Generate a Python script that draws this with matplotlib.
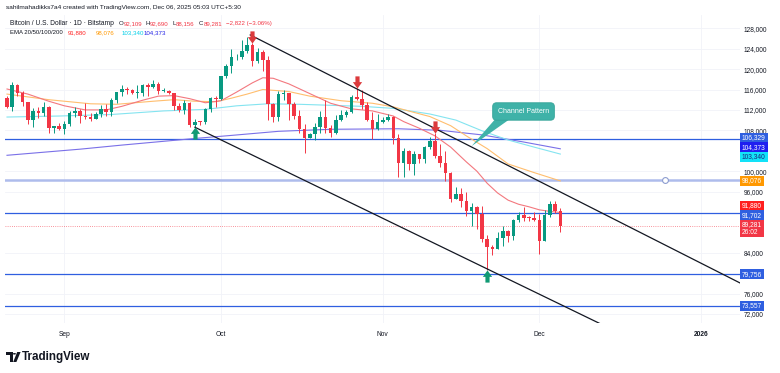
import matplotlib
matplotlib.use("Agg")
import matplotlib.pyplot as plt
import matplotlib.transforms as mtransforms
from matplotlib.path import Path
from matplotlib.patches import Polygon, Rectangle, Circle
import numpy as np
import pandas as pd

# ---------------- data ----------------
start_date = "2025-08-21"
opens = [114270, 112500, 116900, 115400, 113500, 110100, 111800, 111300, 112600, 108400, 108800,
         108300, 109300, 111300, 111700, 110800, 110700, 110200, 111200, 112100, 111500, 113900,
         115500, 116100, 115900, 115300, 115400, 116800, 116500, 117100, 115700, 115700, 115300,
         112700, 112000, 113300, 109000, 109700, 109600, 112100, 114400,
         114100, 118600, 120600, 122300, 122400, 123500, 124800, 121500, 123300, 121700, 113200,
         110700, 115100, 115300, 113100, 110800, 108200, 106400, 107200, 108600, 110600, 108400,
         107500, 110100, 111000, 111600, 114500, 114100, 112900, 110000, 108300,
         109600, 110100, 110600, 106500, 101500, 103900, 101300, 103300, 102300, 104700, 106000,
         103000, 101600, 99700, 94500, 95500, 94200, 92200, 92900, 91500, 86600, 85100, 84700,
         86800, 88300, 87300, 90500, 91300, 90900, 90800,
         90400, 86300, 91300, 93500, 92109]
highs = [114800, 117400, 117000, 115800, 113600, 112300, 112600, 113500, 112700, 108900, 109500,
         109900, 111800, 112600, 112200, 113400, 111300, 111500, 112900, 113200, 114300, 115500,
         116800, 116400, 116100, 116800, 117000, 117300, 117900, 117500, 116300, 115900, 115400,
         113300, 114000, 113500, 110300, 109800, 112300, 114500, 114800,
         118600, 121000, 123900, 122900, 125700, 126200, 125100, 124200, 123800, 122500, 113400,
         115800, 116000, 115400, 113600, 111900, 109200, 107500, 109400, 111700, 114000, 109100,
         111000, 112000, 111900, 115000, 116300, 116000, 113600, 111600, 111200,
         110600, 111200, 110800, 107300, 104500, 104200, 104000, 103400, 105000, 106600, 107500,
         105300, 104000, 99800, 96800, 96600, 96000, 93800, 93100, 93100, 87500, 85600, 88000,
         89200, 88500, 90600, 91900, 93000, 91200, 92000,
         91500, 92300, 94100, 94100, 92690]
lows = [112400, 111700, 114700, 112700, 109300, 108700, 110400, 110900, 107500, 107400, 108000,
        107300, 108800, 110600, 109400, 110200, 109900, 110200, 110700, 110800, 110900, 113400,
        114800, 115200, 115100, 114400, 114800, 114700, 116200, 115100, 115500, 115200, 112000,
        111500, 111100, 108700, 108600, 109100, 109200, 111600, 112600,
        113900, 118200, 119300, 121700, 122000, 123100, 120600, 121100, 119700, 110000, 109600,
        109800, 113900, 110000, 110200, 107500, 103500, 106400, 106100, 107500, 107500, 106700,
        107300, 109800, 110700, 111300, 113900, 112200, 109900, 106300, 108000,
        109500, 109800, 105300, 98900, 98900, 100300, 99300, 101500, 101500, 104300, 102500,
        100800, 98000, 94000, 94500, 93000, 91200, 89300, 88600, 86100, 80600, 83500, 84700,
        85300, 86100, 86400, 90100, 90200, 90300, 90300,
        83800, 86200, 91000, 91700, 88156]
closes = [112500, 116900, 115400, 113500, 110100, 111800, 111300, 112600, 108400, 108800, 108300,
          109300, 111300, 111700, 110800, 110700, 110200, 111200, 112100, 111500, 113900, 115500,
          116100, 115900, 115300, 115400, 116800, 116500, 117100, 115700, 115700, 115300, 112700,
          112000, 113300, 109000, 109700, 109600, 112100, 114400, 114100,
          118600, 120600, 122300, 122400, 123500, 124800, 121500, 123300, 121700, 113200, 110700,
          115100, 115300, 113100, 110800, 108200, 106400, 107200, 108600, 110600, 108400, 107500,
          110100, 111000, 111600, 114500, 114100, 112900, 110000, 108300, 109600,
          110100, 110600, 106500, 101500, 103900, 101300, 103300, 102300, 104700, 106000, 103000,
          101600, 99700, 94500, 95500, 94200, 92200, 92900, 91500, 86600, 85100, 84700, 86800,
          88300, 87300, 90500, 91300, 90900, 90800, 90400,
          86300, 91300, 93500, 92103, 89281]

ema20_idx = [0, 4, 8, 11, 15, 19, 22, 26, 29, 32, 35, 38, 41, 44, 47, 49, 51, 54, 58, 62, 66, 70,
             74, 76, 79, 82, 85, 88, 90, 92, 94, 96, 98, 100, 102, 104, 106]
ema20_val = [116100, 115100, 113700, 112800, 112000, 112000, 112700, 113900, 114700, 114800, 114200,
             113400, 113800, 115500, 117300, 118300, 118200, 117100, 115200, 113300, 112200, 111800,
             110800, 109700, 108400, 106900, 104700, 101800, 100000, 97600, 95700, 94300, 93500,
             93000, 92400, 92100, 91880]
ema50_idx = [0, 8, 16, 21, 28, 32, 36, 40, 43, 46, 49, 54, 58, 64, 70, 74, 78, 81, 85, 88, 92, 96,
             101, 106]
ema50_val = [115100, 114000, 113200, 113100, 113700, 114000, 113700, 113600, 114300, 115100, 116000,
             115600, 114700, 113800, 113300, 112600, 111500, 110700, 108900, 106900, 104400, 101400,
             99700, 98076]
ema100_idx = [0, 10, 20, 30, 38, 44, 50, 56, 62, 68, 74, 81, 86, 91, 96, 101, 106]
ema100_val = [110600, 110800, 111100, 111800, 112100, 112800, 113200, 113100, 112900, 112700, 112300,
              111200, 110000, 107900, 106100, 104700, 103340]
ema200_idx = [0, 14, 22, 36, 43, 52, 62, 75, 83, 91, 99, 106]
ema200_val = [103100, 104300, 105100, 106400, 107000, 107800, 108200, 108300, 108000, 107100,
              105700, 104373]

levels = [106329, 91702, 79756, 73557]
soft_level = 98250
channel_upper_idx = [46.6, 140.4]
channel_upper_price = [126700, 78080]
channel_lower_idx = [36.0, 114.2]
channel_lower_price = [108600, 69800]
sell_days = ["2025-10-07", "2025-10-27", "2025-11-11"]
buy_days = ["2025-09-26", "2025-11-21"]
month_dates = ["2025-09-01", "2025-10-01", "2025-11-01", "2025-12-01", "2026-01-01"]
month_labels = ["Sep", "Oct", "Nov", "Dec", "2026"]
countdown = "26:02"

# ---------------- style ----------------
FONT = ["Liberation Sans", "DejaVu Sans"]
plt.rcParams["font.family"] = FONT
TXT = "#131722"
GREEN = "#089981"
RED = "#f23645"
BLUE = "#2f5fe0"
W, H = 780, 373
AX_L, AX_R, AX_T, AX_B = 5, 740, 15, 323
XMIN, XMAX = (AX_L - 7) / 5.22, (AX_R - 7) / 5.22
YMIN, YMAX = 70216, 130608

fig = plt.figure(figsize=(W / 100, H / 100), dpi=100)
fig.patch.set_facecolor("white")
ax = fig.add_axes([AX_L / W, 1 - AX_B / H, (AX_R - AX_L) / W, (AX_B - AX_T) / H])
ax.set_xlim(XMIN, XMAX)
ax.set_ylim(YMIN, YMAX)
for s in ax.spines.values():
    s.set_visible(False)

t0 = pd.Timestamp(start_date)
def day_index(d):
    return (pd.Timestamp(d) - t0).days

o = np.array(opens, float); h = np.array(highs, float)
l = np.array(lows, float); c = np.array(closes, float)
idx = np.arange(len(c))

# levels
for lv in levels:
    ax.axhline(lv, color=BLUE, lw=0.9, zorder=1.5)
ax.axhline(soft_level, color="#aebcec", lw=1.8, zorder=1.5)
ax.plot([126], [soft_level], "o", ms=4.2, mfc="white", mec="#8d9dd0", mew=0.8, zorder=6)
ax.axhline(c[-1], color=RED, lw=0.6, ls=(0, (1, 1.6)), alpha=0.7, zorder=1.5)

# EMAs
ax.plot(ema200_idx, ema200_val, color="#7a70e8", lw=0.8, zorder=2)
ax.plot(ema100_idx, ema100_val, color="#84e4f0", lw=0.8, zorder=2)
ax.plot(ema50_idx, ema50_val, color="#ffbe6e", lw=0.8, zorder=2)
ax.plot(ema20_idx, ema20_val, color="#f3787f", lw=0.8, zorder=2)

# candles
up = c >= o
cols = np.where(up, GREEN, RED)
ax.vlines(idx, l, h, colors=cols, lw=0.7, zorder=3)
ax.bar(idx, np.maximum(np.abs(c - o), 130), width=0.68, bottom=np.minimum(o, c),
       color=cols, lw=0, zorder=4)

# channel
def extend(xs, ys, x_end):
    k = (ys[1] - ys[0]) / (xs[1] - xs[0])
    return [xs[0], x_end], [ys[0], ys[0] + k * (x_end - xs[0])]
ux, uy = extend(channel_upper_idx, channel_upper_price, 150)
lx, ly = extend(channel_lower_idx, channel_lower_price, 125)
ax.plot(ux, uy, color=TXT, lw=0.9, zorder=5)
ax.plot(lx, ly, color=TXT, lw=0.9, zorder=5)

# arrows
dv = [(-0.17, 0.5), (0.17, 0.5), (0.17, 0.03), (0.38, 0.03), (0, -0.5), (-0.38, 0.03),
      (-0.17, 0.03), (-0.17, 0.5)]
codes = [Path.MOVETO] + [Path.LINETO] * 6 + [Path.CLOSEPOLY]
down_m = Path(dv, codes)
up_m = Path([(x, -y) for x, y in dv], codes)
tr_dn = mtransforms.offset_copy(ax.transData, fig=fig, y=4.4, units="points")
tr_up = mtransforms.offset_copy(ax.transData, fig=fig, y=-4.4, units="points")
for d in sell_days:
    k = day_index(d)
    ax.plot([k], [h[k]], marker=down_m, ms=8.8, color="#dc3a3c", mec="none", transform=tr_dn, zorder=7)
for d in buy_days:
    k = day_index(d)
    ax.plot([k], [l[k]], marker=up_m, ms=8.8, color="#119a74", mec="none", transform=tr_up, zorder=7)

# callout
TEAL = "#3fb2a8"
ax.text(98.95, 111690, "Channel Pattern", color="white", fontsize=5.0, ha="center", va="center",
        zorder=9, bbox=dict(boxstyle="round,pad=0.75,rounding_size=0.55", fc=TEAL, ec="#35a398", lw=0.6))
ax.add_patch(Polygon([(93.7, 110400), (96.6, 110400), (89.0, 104900)], closed=True,
                     fc=TEAL, ec="none", zorder=8))

# x axis
ax.set_xticks([day_index(d) for d in month_dates])
ax.set_xticklabels(month_labels)
ax.tick_params(axis="x", length=0, pad=5.6, labelsize=4.8, labelcolor=TXT)
ax.get_xticklabels()[-1].set_fontweight("bold")

# ---------------- price tags ----------------
def v2py(v):
    return AX_T + (YMAX - v) / (YMAX - YMIN) * (AX_B - AX_T)

fmt = lambda v: f"{v:,.0f}"
tags = [
    (levels[0], fmt(levels[0]), BLUE, "white"),
    (ema200_val[-1], fmt(ema200_val[-1]), "#1f1ff0", "white"),
    (ema100_val[-1], fmt(ema100_val[-1]), "#12e2f8", "#1a237e"),
    (ema50_val[-1], fmt(ema50_val[-1]), "#ff9800", "white"),
    (ema20_val[-1], fmt(ema20_val[-1]), "#ff1f1f", "white"),
    (levels[1], fmt(levels[1]), BLUE, "white"),
    (closes[-1], fmt(closes[-1]) + "\n" + countdown, RED, "white"),
    (levels[2], fmt(levels[2]), BLUE, "white"),
    (levels[3], fmt(levels[3]), BLUE, "white"),
]
tags.sort(key=lambda t: v2py(t[0]))
desired = [v2py(t[0]) for t in tags]
heights = [17.0 if "\n" in t[1] else 9.7 for t in tags]
groups = [[k] for k in range(len(tags))]

def place(g):
    tot = sum(heights[k] for k in g)
    cen = sum(desired[k] * heights[k] for k in g) / tot
    top = cen - tot / 2
    pos, y = [], top
    for k in g:
        pos.append(y + heights[k] / 2)
        y += heights[k]
    return top, top + tot, pos

changed = True
while changed:
    changed = False
    for j in range(len(groups) - 1):
        if place(groups[j])[1] > place(groups[j + 1])[0]:
            groups[j] = groups[j] + groups[j + 1]
            del groups[j + 1]
            changed = True
            break
centers = {}
for g in groups:
    for k, p in zip(g, place(g)[2]):
        centers[k] = p

fig.canvas.draw()
rend = fig.canvas.get_renderer()
for k, (v, s, bg, fg) in enumerate(tags):
    yc = centers[k]
    t = fig.text((741.5) / W, 1 - yc / H, s, color=fg, fontsize=4.8, ha="left", va="center",
                 linespacing=1.3, zorder=11)
    tw = t.get_window_extent(renderer=rend).width
    fig.add_artist(Rectangle((739.5 / W, 1 - (yc + heights[k] / 2) / H), (tw + 4.5) / W,
                             heights[k] / H, transform=fig.transFigure, fc=bg, ec="none", zorder=10))

# y ticks (hidden where tags sit)
yt = []
for v in range(72000, 130000, 4000):
    py = v2py(v)
    if all(abs(py - centers[k]) >= heights[k] / 2 + 1 for k in range(len(tags))):
        yt.append(v)
ax.yaxis.tick_right()
ax.set_yticks(yt)
ax.set_yticklabels([fmt(v) for v in yt])
ax.tick_params(axis="y", length=0, pad=2.5, labelsize=4.7, labelcolor=TXT)
ax.grid(True, color="#f1f3f8", lw=0.6, zorder=0)
ax.set_axisbelow(True)

# ---------------- header texts ----------------
def seq(x, y, parts, size=4.45):
    for s, col in parts:
        t = fig.text(x / W, 1 - y / H, s, color=col, fontsize=size, ha="left", va="center", zorder=12)
        x += t.get_window_extent(renderer=rend).width

fig.text(6 / W, 1 - 8 / H, "sahilmahadikks7a4 created with TradingView.com, Dec 06, 2025 05:03 UTC+5:30",
         fontsize=4.65, color=TXT, ha="left", va="center")
seq(10, 23.3, [("Bitcoin / U.S. Dollar · 1D · Bitstamp", TXT)], size=4.8)
chg = closes[-1] - closes[-2]
pct = chg / closes[-2] * 100
seq(118.8, 23.3, [("O", TXT), (fmt(opens[-1]), RED)])
seq(145.7, 23.3, [("H", TXT), (fmt(highs[-1]), RED)])
seq(172.7, 23.3, [("L", TXT), (fmt(lows[-1]), RED)])
seq(199.0, 23.3, [("C", TXT), (fmt(closes[-1]), RED)])
seq(226.0, 23.3, [(f"\u2212{abs(chg):,.0f} (\u2212{abs(pct):.2f}%)", RED)])
seq(10, 32.7, [("EMA 20/50/100/200", TXT)], size=4.3)
seq(67.7, 32.7, [(fmt(ema20_val[-1]), "#ff2020")])
seq(95.7, 32.7, [(fmt(ema50_val[-1]), "#ff9800")])
seq(121.7, 32.7, [(fmt(ema100_val[-1]), "#00cfe8")])
seq(144.0, 32.7, [(fmt(ema200_val[-1]), "#2323e6")])

# ---------------- TradingView logo ----------------
def fpoly(pts, **kw):
    fig.add_artist(Polygon([(x / W, 1 - y / H) for x, y in pts], closed=True,
                           transform=fig.transFigure, **kw))
fpoly([(6, 352), (12.6, 352), (12.6, 362), (9.6, 362), (9.6, 355), (6, 355)], fc=TXT, ec="none")
fig.add_artist(Circle((14.4 / W, 1 - 353.8 / H), 1.6 / W, transform=fig.transFigure, fc=TXT, ec="none"))
fpoly([(17.2, 352), (20.6, 352), (16.4, 362), (13.2, 362)], fc=TXT, ec="none")
fig.text(22 / W, 1 - 357 / H, "TradingView", fontsize=8.4, fontweight="bold", color=TXT,
         ha="left", va="center")

fig.savefig("out.png", dpi=100, facecolor="white")
